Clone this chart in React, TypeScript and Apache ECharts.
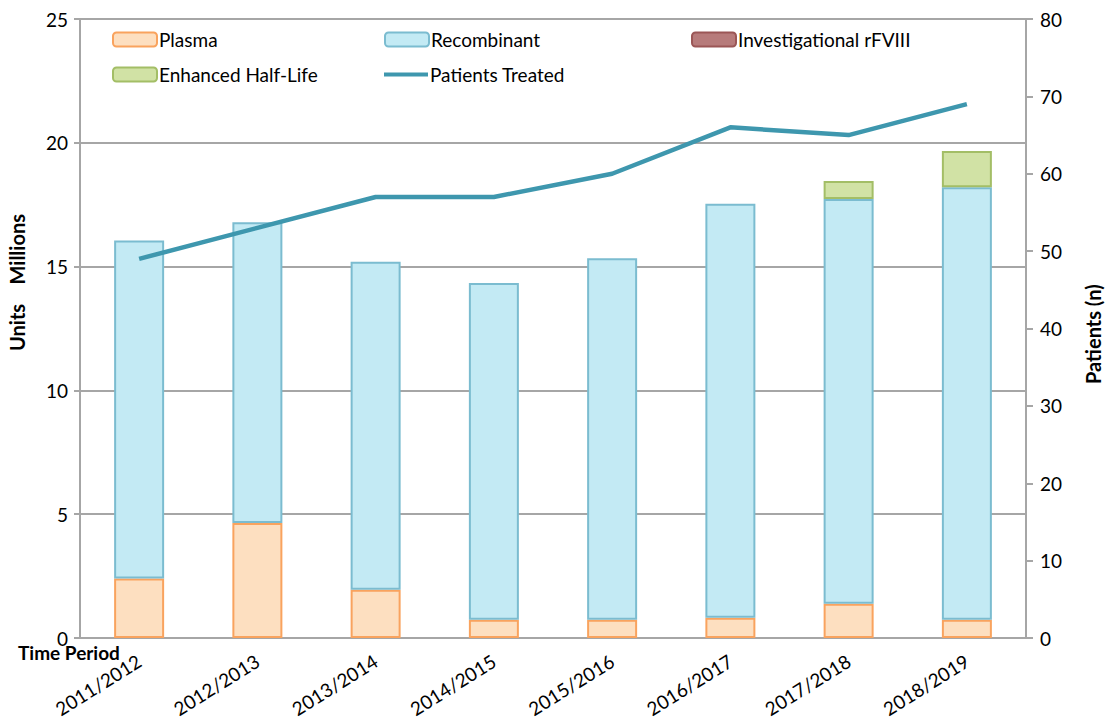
import React, { useEffect, useRef } from "react";
import * as echarts from "echarts";

const categories = ["2011/2012", "2012/2013", "2013/2014", "2014/2015", "2015/2016", "2016/2017", "2017/2018", "2018/2019"];
const plasma = [2.4, 4.64, 1.95, 0.74, 0.74, 0.82, 1.38, 0.74];
const recombinant = [13.65, 12.15, 13.25, 13.6, 14.6, 16.72, 16.35, 17.46];
const investigational = [0, 0, 0, 0, 0, 0, 0, 0];
const enhancedHalfLife = [0, 0, 0, 0, 0, 0, 0.73, 1.47];
const patientsTreated = [49, 53, 57, 57, 60, 66, 65, 69];
const leftTicks = [0, 5, 10, 15, 20, 25];
const rightTicks = [0, 10, 20, 30, 40, 50, 60, 70, 80];

const FONT = "Lato, 'Open Sans', sans-serif";
const hideZero = (arr: number[]) => arr.map((v) => (v === 0 ? "-" : v));

export default function App() {
  const ref = useRef<HTMLDivElement>(null);
  useEffect(() => {
    if (!ref.current) return;
    const chart = echarts.init(ref.current, null, { renderer: "svg" });
    const legendBase = {
      itemWidth: 44,
      itemHeight: 14,
      itemGap: 4,
      textStyle: { fontFamily: FONT, fontSize: 19, color: "#000", padding: [0, 0, 0, -3] },
      padding: 0,
    };
    const gray = "#A6A6A6";
    chart.setOption({
      animation: false,
      textStyle: { fontFamily: FONT },
      grid: { left: 80, right: 82, top: 19, bottom: 84, containLabel: false, outerBoundsMode: "none" },
      legend: [
        { ...legendBase, left: 112, top: 30, data: ["Plasma"] },
        { ...legendBase, left: 384, top: 30, data: ["Recombinant"] },
        { ...legendBase, left: 691, top: 30, data: ["Investigational rFVIII"] },
        { ...legendBase, left: 112, top: 65, data: ["Enhanced Half-Life"] },
        { ...legendBase, left: 384, top: 65, data: [{ name: "Patients Treated", icon: "rect", itemStyle: { color: "#3E97AE" } }], itemHeight: 4 },
      ],
      xAxis: {
        type: "category",
        data: categories,
        axisLine: { show: true, lineStyle: { color: gray, width: 2 } },
        axisTick: { show: false },
        axisLabel: { rotate: 32, fontSize: 19, color: "#000", fontFamily: FONT, margin: 21, interval: 0 },
      },
      yAxis: [
        {
          type: "value",
          min: leftTicks[0],
          max: leftTicks[leftTicks.length - 1],
          interval: 5,
          axisLine: { show: true, lineStyle: { color: gray, width: 2 } },
          axisTick: { show: true, length: 6, lineStyle: { color: gray, width: 2 } },
          axisLabel: { fontSize: 19, color: "#000", fontFamily: FONT, margin: 12 },
          splitLine: { show: true, lineStyle: { color: gray, width: 2 } },
        },
        {
          type: "value",
          min: rightTicks[0],
          max: rightTicks[rightTicks.length - 1],
          interval: 10,
          position: "right",
          axisLine: { show: true, lineStyle: { color: gray, width: 2 } },
          axisTick: { show: true, length: 7, lineStyle: { color: gray, width: 2 } },
          axisLabel: { fontSize: 19, color: "#000", fontFamily: FONT, margin: 14 },
          splitLine: { show: false },
        },
      ],
      graphic: [
        { type: "text", left: 18, top: 643, style: { text: "Time Period", font: `bold 19px ${FONT}`, fill: "#000" } },
        { type: "text", x: 17, y: 351, rotation: Math.PI / 2, style: { text: "Units    Millions", font: `bold 20px ${FONT}`, fill: "#000", align: "left", verticalAlign: "middle" } },
        { type: "text", x: 1093, y: 384, rotation: Math.PI / 2, style: { text: "Patients (n)", font: `bold 20px ${FONT}`, fill: "#000", align: "left", verticalAlign: "middle" } },
      ],
      series: [
        {
          name: "Plasma", type: "bar", stack: "u", barWidth: 50, data: hideZero(plasma),
          itemStyle: { color: "#FDDFC0", borderColor: "#F9A35E", borderWidth: 2 },
        },
        {
          name: "Recombinant", type: "bar", stack: "u", barWidth: 50, data: hideZero(recombinant),
          itemStyle: { color: "#C3EAF4", borderColor: "#7BBCD0", borderWidth: 2 },
        },
        {
          name: "Investigational rFVIII", type: "bar", stack: "u", barWidth: 50, data: hideZero(investigational),
          itemStyle: { color: "#B77B7B", borderColor: "#9B5656", borderWidth: 2 },
        },
        {
          name: "Enhanced Half-Life", type: "bar", stack: "u", barWidth: 50, data: hideZero(enhancedHalfLife),
          itemStyle: { color: "#D1E2A5", borderColor: "#A3BE66", borderWidth: 2 },
        },
        {
          name: "Patients Treated", type: "line", yAxisIndex: 1, data: patientsTreated,
          symbol: "none", lineStyle: { color: "#3E97AE", width: 4.5 }, itemStyle: { color: "#3E97AE" },
        },
      ],
    });
    return () => chart.dispose();
  }, []);
  return <div ref={ref} style={{ width: 1108, height: 722, position: "absolute", left: 0, top: 0 }} />;
}
